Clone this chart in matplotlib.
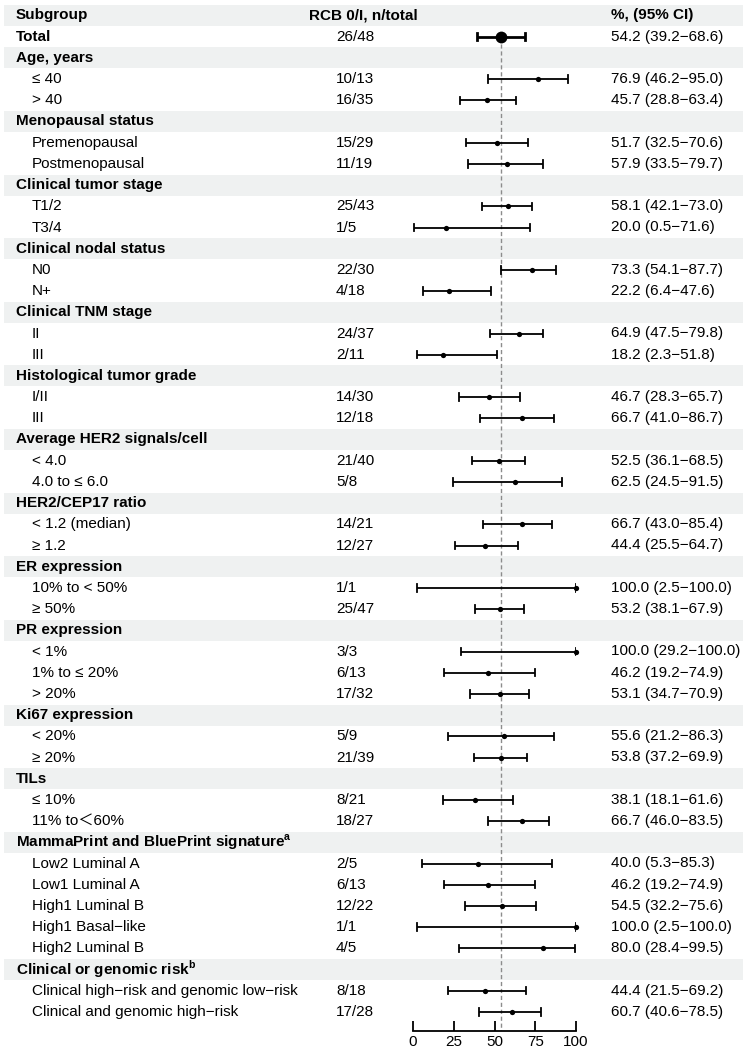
import matplotlib
matplotlib.use("Agg")
import matplotlib.pyplot as plt

plt.rcParams['font.family'] = ['Liberation Sans', 'Noto Sans CJK SC', 'DejaVu Sans']
plt.rcParams['mathtext.fontset'] = 'custom'
plt.rcParams['mathtext.rm'] = 'Liberation Sans'
plt.rcParams['mathtext.bf'] = 'Liberation Sans:bold'

# ---------------- data ----------------
# (label, is_group_header)
labels = [
    "Total",
    "Age, years", "≤ 40", "> 40",
    "Menopausal status", "Premenopausal", "Postmenopausal",
    "Clinical tumor stage", "T1/2", "T3/4",
    "Clinical nodal status", "N0", "N+",
    "Clinical TNM stage", "II", "III",
    "Histological tumor grade", "I/II", "III",
    "Average HER2 signals/cell", "< 4.0", "4.0 to ≤ 6.0",
    "HER2/CEP17 ratio", "< 1.2 (median)", "≥ 1.2",
    "ER expression", "10% to < 50%", "≥ 50%",
    "PR expression", "< 1%", "1% to ≤ 20%", "> 20%",
    "Ki67 expression", "< 20%", "≥ 20%",
    "TILs", "≤ 10%", "11% to\uff1c60%",
    r"MammaPrint and BluePrint signature$^{\mathbf{a}}$",
    "Low2 Luminal A", "Low1 Luminal A", "High1 Luminal B",
    "High1 Basal\u2212like", "High2 Luminal B",
    r"Clinical or genomic risk$^{\mathbf{b}}$",
    "Clinical high\u2212risk and genomic low\u2212risk",
    "Clinical and genomic high\u2212risk",
]
is_group = [
    False,
    True, False, False,
    True, False, False,
    True, False, False,
    True, False, False,
    True, False, False,
    True, False, False,
    True, False, False,
    True, False, False,
    True, False, False,
    True, False, False, False,
    True, False, False,
    True, False, False,
    True, False, False, False, False, False,
    True, False, False,
]
n_total = [
    "26/48",
    "", "10/13", "16/35",
    "", "15/29", "11/19",
    "", "25/43", "1/5",
    "", "22/30", "4/18",
    "", "24/37", "2/11",
    "", "14/30", "12/18",
    "", "21/40", "5/8",
    "", "14/21", "12/27",
    "", "1/1", "25/47",
    "", "3/3", "6/13", "17/32",
    "", "5/9", "21/39",
    "", "8/21", "18/27",
    "", "2/5", "6/13", "12/22", "1/1", "4/5",
    "", "8/18", "17/28",
]
est = [
    54.2,
    None, 76.9, 45.7,
    None, 51.7, 57.9,
    None, 58.1, 20.0,
    None, 73.3, 22.2,
    None, 64.9, 18.2,
    None, 46.7, 66.7,
    None, 52.5, 62.5,
    None, 66.7, 44.4,
    None, 100.0, 53.2,
    None, 100.0, 46.2, 53.1,
    None, 55.6, 53.8,
    None, 38.1, 66.7,
    None, 40.0, 46.2, 54.5, 100.0, 80.0,
    None, 44.4, 60.7,
]
lo = [
    39.2,
    None, 46.2, 28.8,
    None, 32.5, 33.5,
    None, 42.1, 0.5,
    None, 54.1, 6.4,
    None, 47.5, 2.3,
    None, 28.3, 41.0,
    None, 36.1, 24.5,
    None, 43.0, 25.5,
    None, 2.5, 38.1,
    None, 29.2, 19.2, 34.7,
    None, 21.2, 37.2,
    None, 18.1, 46.0,
    None, 5.3, 19.2, 32.2, 2.5, 28.4,
    None, 21.5, 40.6,
]
hi = [
    68.6,
    None, 95.0, 63.4,
    None, 70.6, 79.7,
    None, 73.0, 71.6,
    None, 87.7, 47.6,
    None, 79.8, 51.8,
    None, 65.7, 86.7,
    None, 68.5, 91.5,
    None, 85.4, 64.7,
    None, 100.0, 67.9,
    None, 100.0, 74.9, 70.9,
    None, 86.3, 69.9,
    None, 61.6, 83.5,
    None, 85.3, 74.9, 75.6, 100.0, 99.5,
    None, 69.2, 78.5,
]
x_ticks = [0, 25, 50, 75, 100]
ref_value = 54.2

# ---------------- layout ----------------
W, H = 747, 1050
row_h = 21.2          # pixels per row
row1_center = 15.5    # pixel y of header row center
axis_y = 1031         # pixel y of x-axis line
x0_px, x100_px = 413, 576

fig = plt.figure(figsize=(W / 100, H / 100), dpi=100)
ax = fig.add_axes([0, 0, 1, 1])
ax.set_xlim(0, W)
# row index r (0 = header) has center at pixel row1_center + r*row_h
top_row = 0 - row1_center / row_h
bot_row = (H - row1_center) / row_h
ax.set_ylim(bot_row, top_row)
ax.axis("off")

fs = 11
stripe = "#eff1f1"

# header row
ax.axhspan(-0.5, 0.5, xmin=4 / W, xmax=743 / W, color=stripe, lw=0, zorder=0)
ax.text(16, 0, "Subgroup", fontsize=fs, fontweight="bold", va="center")
ax.text(309, 0, "RCB 0/I, n/total", fontsize=fs, fontweight="bold", va="center")
ax.text(611, 0, "%, (95% CI)", fontsize=fs, fontweight="bold", va="center")

for i, lab in enumerate(labels):
    r = i + 1
    grp = is_group[i]
    if grp:
        ax.axhspan(r - 0.5, r + 0.5, xmin=4 / W, xmax=743 / W, color=stripe, lw=0, zorder=0)
    bold = grp or lab == "Total"
    xlab = 16 if bold else 32
    ax.text(xlab, r, lab, fontsize=fs, fontweight="bold" if bold else "normal", va="center")
    if n_total[i]:
        ax.text(336, r, n_total[i], fontsize=fs, va="center")
    if est[i] is not None:
        ax.text(611, r, f"{est[i]:.1f} ({lo[i]:.1f}\u2212{hi[i]:.1f})", fontsize=fs, va="center")

# forest axes
fa_bottom = (H - axis_y) / H
fa = fig.add_axes([x0_px / W, fa_bottom, (x100_px - x0_px) / W, 1 - fa_bottom])
fa.patch.set_alpha(0)
fa.set_xlim(0, 100)
fa.set_ylim((axis_y - row1_center) / row_h, top_row)
for s in ["top", "right", "left"]:
    fa.spines[s].set_visible(False)
fa.spines["bottom"].set_linewidth(1.3)
fa.set_yticks([])
fa.set_xticks(x_ticks)
fa.set_xticklabels([str(t) for t in x_ticks], fontsize=fs)
fa.tick_params(axis="x", direction="in", length=7, width=1.3, pad=3)

# reference line
fa.vlines(ref_value, 1, (axis_y - row1_center) / row_h, colors="#8c8c8c",
          linestyles=(0, (3, 2)), lw=1, zorder=1)

for i in range(len(labels)):
    if est[i] is None:
        continue
    r = i + 1
    total = (i == 0)
    lw = 2.0 if total else 1.3
    cap = 0.17
    fa.plot([lo[i], hi[i]], [r, r], color="black", lw=lw, zorder=3, solid_capstyle="butt")
    fa.plot([lo[i], lo[i]], [r - cap, r + cap], color="black", lw=lw, zorder=3)
    fa.plot([hi[i], hi[i]], [r - cap, r + cap], color="black", lw=lw, zorder=3)
    fa.plot([est[i]], [r], marker="o", color="black", ms=8.5 if total else 3.8,
            mew=0, zorder=4, clip_on=False)

fig.savefig("out.png", dpi=100)
